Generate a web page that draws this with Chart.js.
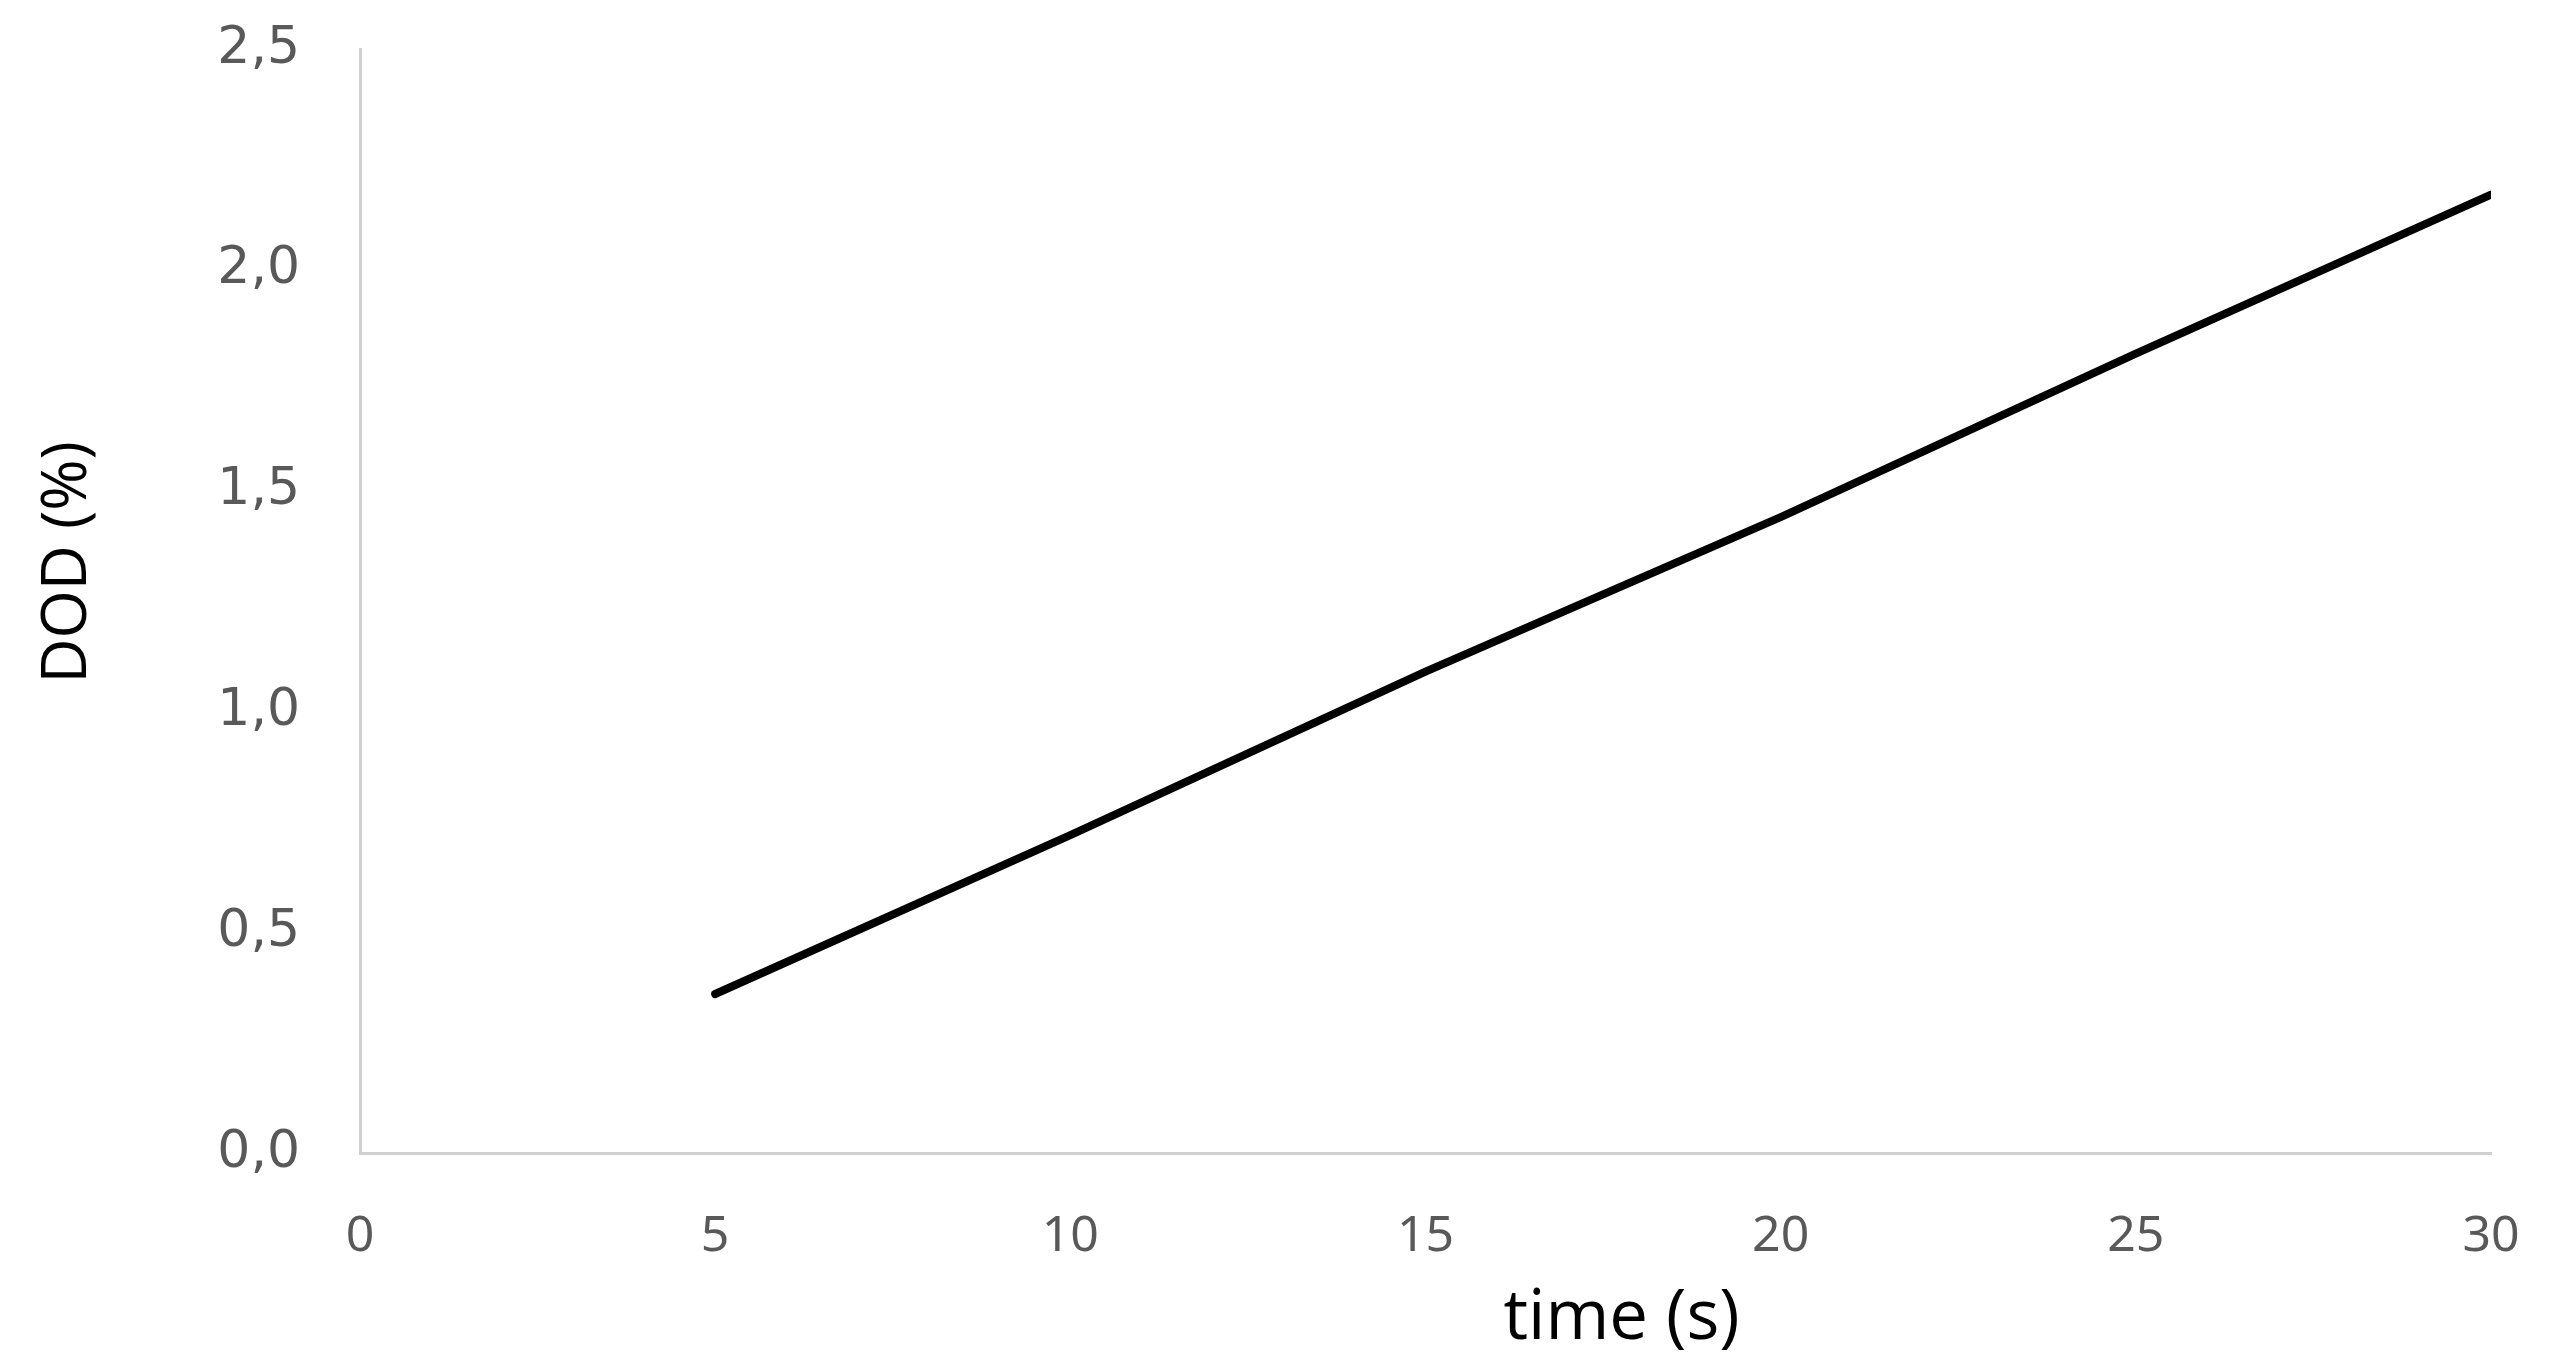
<!DOCTYPE html>
<html>
<head>
<meta charset="utf-8">
<script src="https://cdn.jsdelivr.net/npm/chart.js@4"></script>
<style>
  html, body { margin: 0; padding: 0; background: #fff; }
  #wrap { width: 2553px; height: 1371px; }
</style>
</head>
<body>
<div id="wrap"><canvas id="dod"></canvas></div>
<script>
// data
const timeSec = [5, 10, 15, 20, 25, 30];
const dodPct = [0.36, 0.72, 1.09, 1.44, 1.81, 2.17];
const xTicks = [0, 5, 10, 15, 20, 25, 30];
const yTicks = [0, 0.5, 1.0, 1.5, 2.0, 2.5];
const xTitle = "time (s)";
const yTitle = "DOD (%)";

const axisGray = "#d0d0d0";
const tickGray = "#595959";

// both axis titles sit off-centre in the original, so draw them by hand
const axisTitlePlugin = {
  id: "axisTitles",
  afterDraw(chart) {
    const { ctx, chartArea } = chart;
    const w = chartArea.right - chartArea.left;
    const h = chartArea.bottom - chartArea.top;
    ctx.save();
    ctx.fillStyle = "#000";
    ctx.textAlign = "center";
    ctx.textBaseline = "middle";

    ctx.font = "69px 'Open Sans'";
    ctx.fillText(xTitle, chartArea.left + 0.592 * w, chartArea.bottom + 166);

    ctx.font = "62px 'Open Sans'";
    ctx.translate(68, chartArea.top + 0.465 * h);
    ctx.rotate(-Math.PI / 2);
    ctx.fillText(yTitle, 0, 0);
    ctx.restore();
  },
};

const ctx = document.getElementById("dod").getContext("2d");
new Chart(ctx, {
  type: "line",
  data: {
    datasets: [{
      label: "DOD",
      data: timeSec.map((t, i) => ({ x: t, y: dodPct[i] })),
      borderColor: "#000",
      borderWidth: 8,
      borderCapStyle: "round",
      borderJoinStyle: "round",
      pointRadius: 0,
      fill: false,
      tension: 0,
    }],
  },
  options: {
    responsive: true,
    maintainAspectRatio: false,
    animation: false,
    layout: { padding: { left: 0, right: 62, top: 49, bottom: 0 } },
    plugins: { legend: { display: false }, tooltip: { enabled: false } },
    scales: {
      x: {
        type: "linear",
        min: 0,
        max: 30,
        afterBuildTicks: axis => { axis.ticks = xTicks.map(v => ({ value: v })); },
        afterFit: axis => {
          axis.height = 218;
          axis.paddingLeft = 0;
          axis.paddingRight = 0;
        },
        grid: { display: false, drawTicks: false },
        border: { display: true, color: axisGray, width: 3 },
        ticks: {
          color: tickGray,
          padding: 54,
          font: { family: "'Liberation Sans Narrow', 'Noto Sans'", size: 50 },
        },
      },
      y: {
        min: 0,
        max: 2.5,
        afterBuildTicks: axis => { axis.ticks = yTicks.map(v => ({ value: v })); },
        afterFit: axis => {
          axis.width = 360;
          axis.paddingTop = 0;
          axis.paddingBottom = 0;
        },
        grid: { display: false, drawTicks: false },
        border: { display: true, color: axisGray, width: 3 },
        ticks: {
          color: tickGray,
          padding: 60,
          font: { family: "'DejaVu Sans'", size: 52 },
          callback: v => v.toFixed(1).replace(".", ","),
        },
      },
    },
  },
  plugins: [axisTitlePlugin],
});
</script>
</body>
</html>
